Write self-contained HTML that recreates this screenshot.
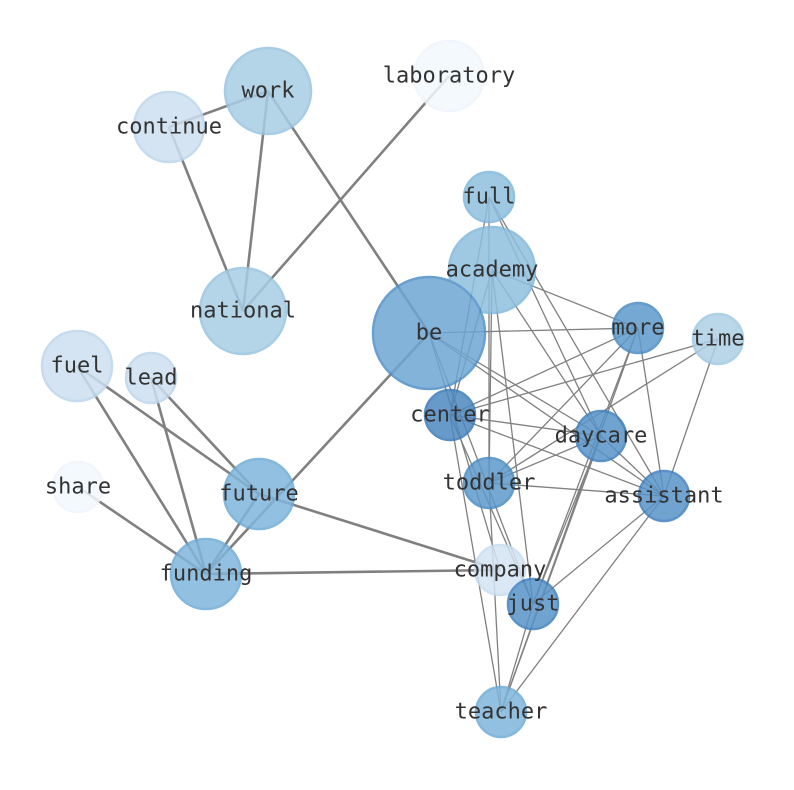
<!DOCTYPE html>
<html><head><meta charset="utf-8"><style>body{margin:0;background:#fff}svg{display:block}text{font-family:"DejaVu Sans Mono","Liberation Mono",monospace;font-size:22px;fill:#333;text-anchor:middle;dominant-baseline:central}</style></head><body>
<svg width="794" height="790" viewBox="0 0 794 790">
<g stroke="#808080" stroke-width="2.6" fill="none">
<line x1="268" y1="91" x2="169" y2="127"/><line x1="268" y1="91" x2="243" y2="311"/><line x1="169" y1="127" x2="243" y2="311"/>
<line x1="268" y1="91" x2="429" y2="333"/><line x1="449" y1="76" x2="243" y2="311"/><line x1="429" y1="333" x2="206" y2="574"/>
<line x1="77" y1="366" x2="259" y2="494"/><line x1="77" y1="366" x2="206" y2="574"/><line x1="151" y1="378" x2="259" y2="494"/>
<line x1="151" y1="378" x2="206" y2="574"/><line x1="78" y1="487" x2="206" y2="574"/><line x1="259" y1="494" x2="206" y2="574"/>
<line x1="259" y1="494" x2="500" y2="570"/><line x1="206" y1="574" x2="500" y2="570"/>
</g>
<g stroke="#808080" stroke-width="1.3" fill="none">
<line x1="489" y1="197" x2="450" y2="415"/><line x1="489" y1="197" x2="489" y2="483"/><line x1="489" y1="197" x2="601" y2="436"/><line x1="489" y1="197" x2="664" y2="496"/>
<line x1="492" y1="270" x2="638" y2="328"/><line x1="492" y1="270" x2="450" y2="415"/><line x1="492" y1="270" x2="489" y2="483"/><line x1="492" y1="270" x2="533" y2="604"/><line x1="492" y1="270" x2="601" y2="436"/>
<line x1="429" y1="333" x2="638" y2="328"/><line x1="429" y1="333" x2="601" y2="436"/><line x1="429" y1="333" x2="664" y2="496"/><line x1="429" y1="333" x2="533" y2="604"/><line x1="429" y1="333" x2="500" y2="570"/>
<line x1="450" y1="415" x2="638" y2="328"/><line x1="450" y1="415" x2="718" y2="339"/><line x1="450" y1="415" x2="601" y2="436"/><line x1="450" y1="415" x2="664" y2="496"/><line x1="450" y1="415" x2="533" y2="604"/><line x1="450" y1="415" x2="501" y2="712"/>
<line x1="489" y1="483" x2="638" y2="328"/><line x1="489" y1="483" x2="718" y2="339"/><line x1="489" y1="483" x2="601" y2="436"/><line x1="489" y1="483" x2="664" y2="496"/><line x1="489" y1="483" x2="501" y2="712"/>
<line x1="638" y1="328" x2="533" y2="604"/><line x1="638" y1="328" x2="501" y2="712"/><line x1="638" y1="328" x2="664" y2="496"/>
<line x1="718" y1="339" x2="664" y2="496"/><line x1="601" y1="436" x2="664" y2="496"/><line x1="601" y1="436" x2="533" y2="604"/><line x1="601" y1="436" x2="501" y2="712"/>
<line x1="664" y1="496" x2="533" y2="604"/><line x1="664" y1="496" x2="501" y2="712"/><line x1="533" y1="604" x2="501" y2="712"/>
</g>
<g stroke-width="2.5" opacity="0.85">
<circle cx="268" cy="91" r="43" fill="#a7cde5" stroke="#98c4e0"/>
<circle cx="169" cy="127" r="35" fill="#cde0f1" stroke="#bdd7ec"/>
<circle cx="449" cy="76" r="35" fill="#f2f8fd" stroke="#eef5fc"/>
<circle cx="243" cy="311" r="43" fill="#a7cde5" stroke="#98c4e0"/>
<circle cx="492" cy="270" r="43" fill="#8fc0df" stroke="#80b8db"/>
<circle cx="489" cy="197" r="25" fill="#8fc0df" stroke="#80b8db"/>
<circle cx="429" cy="333" r="56" fill="#6fa6d3" stroke="#4f90c8"/>
<circle cx="638" cy="328" r="25" fill="#5e99cb" stroke="#4a8bc4"/>
<circle cx="718" cy="339" r="25" fill="#aed1e7" stroke="#9fc8e2"/>
<circle cx="77" cy="366" r="35" fill="#cde0f1" stroke="#bdd7ec"/>
<circle cx="151" cy="378" r="25" fill="#cde0f1" stroke="#bdd7ec"/>
<circle cx="78" cy="487" r="25" fill="#f2f8fd" stroke="#eef5fc"/>
<circle cx="259" cy="494" r="35" fill="#80b6dc" stroke="#6eabd6"/>
<circle cx="206" cy="574" r="35" fill="#80b6dc" stroke="#6eabd6"/>
<circle cx="501" cy="712" r="25" fill="#80b6dc" stroke="#6eabd6"/>
<circle cx="500" cy="570" r="25" fill="#d3e4f3" stroke="#c6ddf0"/>
<circle cx="450" cy="415" r="25" fill="#4d88c0" stroke="#3a7bb9"/>
<circle cx="601" cy="436" r="25" fill="#5993c8" stroke="#3f81bf"/>
<circle cx="489" cy="483" r="25" fill="#5e99cb" stroke="#4a8bc4"/>
<circle cx="664" cy="496" r="25" fill="#5993c8" stroke="#3f81bf"/>
<circle cx="533" cy="604" r="25" fill="#5993c8" stroke="#3f81bf"/>
</g>
<text x="268" y="91">work</text><text x="169" y="127">continue</text><text x="449" y="76">laboratory</text>
<text x="489" y="197">full</text><text x="492" y="270">academy</text><text x="243" y="311">national</text>
<text x="429" y="333">be</text><text x="638" y="328">more</text><text x="718" y="339">time</text>
<text x="77" y="366">fuel</text><text x="151" y="378">lead</text><text x="450" y="415">center</text>
<text x="601" y="436">daycare</text><text x="489" y="483">toddler</text><text x="664" y="496">assistant</text>
<text x="78" y="487">share</text><text x="259" y="494">future</text><text x="206" y="574">funding</text>
<text x="500" y="570">company</text><text x="533" y="604">just</text><text x="501" y="712">teacher</text>
</svg>
</body></html>
